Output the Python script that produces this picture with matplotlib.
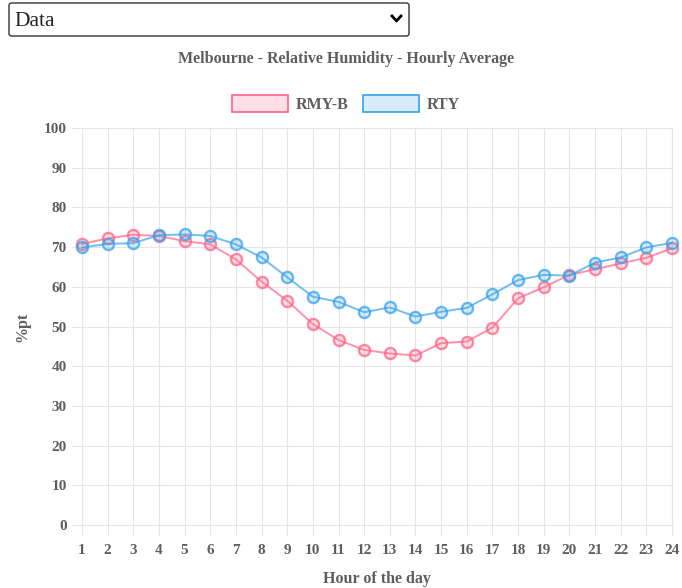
import matplotlib.pyplot as plt
from matplotlib.patches import Patch, FancyBboxPatch
from matplotlib.lines import Line2D

# hourly relative humidity (%)
hours = list(range(1, 25))
rmy_b = [70.8, 72.2, 73.1, 72.8, 71.5, 70.7, 66.9, 61.3, 56.5, 50.6, 46.6, 44.1,
         43.2, 42.7, 45.8, 46.2, 49.7, 57.1, 59.9, 63.0, 64.4, 65.9, 67.3, 69.7]
rty = [69.9, 70.8, 71.0, 73.0, 73.2, 72.8, 70.7, 67.4, 62.4, 57.5, 56.2, 53.6,
       54.8, 52.5, 53.7, 54.7, 58.1, 61.7, 63.0, 62.8, 66.1, 67.4, 69.9, 71.1]
y_ticks = list(range(0, 101, 10))

W, H = 682, 588
PINK = (255/255, 99/255, 132/255)
BLUE = (54/255, 162/255, 235/255)
GRID = '#e5e5e5'
TXT = '#5e5e5e'
FONT = 'Liberation Serif'

plt.rcParams['font.family'] = FONT

fig = plt.figure(figsize=(W/100, H/100), dpi=100)

def fx(px):
    return px / W

def fy(py):
    return 1 - py / H

# plot area in pixel terms
left, right, top, bottom = 82, 672, 128, 525
ax = fig.add_axes([fx(left), fy(bottom), fx(right) - fx(left), fy(top) - fy(bottom)])

for vals, col in [(rmy_b, PINK), (rty, BLUE)]:
    ax.plot(hours, vals, color=(*col, 0.7), lw=1.4, marker='o', ms=8,
            mfc=(*col, 0.2), mec=(*col, 0.75), mew=1.7, clip_on=False, zorder=3)

ax.set_xlim(1, 24)
ax.set_ylim(0, 100)
ax.set_xticks(hours)
ax.set_yticks(y_ticks)
ax.grid(True, color=GRID, lw=0.8)
for s in ax.spines.values():
    s.set_color(GRID)
    s.set_linewidth(0.8)
ax.tick_params(axis='both', colors=GRID, length=7, width=0.8, labelcolor=TXT,
               labelsize=11, pad=4)
ax.tick_params(axis='x', pad=7)
for lab in ax.get_xticklabels() + ax.get_yticklabels():
    lab.set_fontweight('bold')

ax.set_xlabel('Hour of the day', color=TXT, fontsize=11.5, fontweight='bold', labelpad=10)
ax.set_ylabel('%pt', color=TXT, fontsize=11.5, fontweight='bold')
ax.yaxis.set_label_coords(fx(30 - left) / (fx(right) - fx(left)), 0.5)

fig.text(fx(346), fy(59), 'Melbourne - Relative Humidity - Hourly Average',
         ha='center', va='center', color=TXT, fontsize=11.5, fontweight='bold')

handles = [Patch(facecolor=(*PINK, 0.2), edgecolor=PINK, lw=1.2, label='RMY-B'),
           Patch(facecolor=(*BLUE, 0.2), edgecolor=BLUE, lw=1.2, label='RTY')]
leg = fig.legend(handles=handles, loc='center', bbox_to_anchor=(fx(346), fy(104)),
                 ncol=2, frameon=False, fontsize=11.5, handlelength=3.5,
                 handleheight=1.2, columnspacing=0.9, handletextpad=0.5)
for t in leg.get_texts():
    t.set_color(TXT)
    t.set_fontweight('bold')

# dropdown box above the chart
box = FancyBboxPatch((fx(9), fy(36)), fx(400), 33 / H,
                     boxstyle='round,pad=0,rounding_size=0.004',
                     transform=fig.transFigure, facecolor='white',
                     edgecolor='#333333', lw=1.0)
fig.patches.append(box)
fig.text(fx(14), fy(21), 'Data', ha='left', va='center', color='#222222', fontsize=15.5)
fig.lines.append(Line2D([fx(392), fx(396.5), fx(401)], [fy(16), fy(21), fy(16)],
                        transform=fig.transFigure, color='black', lw=2.0))

fig.savefig('out.png', dpi=100)
